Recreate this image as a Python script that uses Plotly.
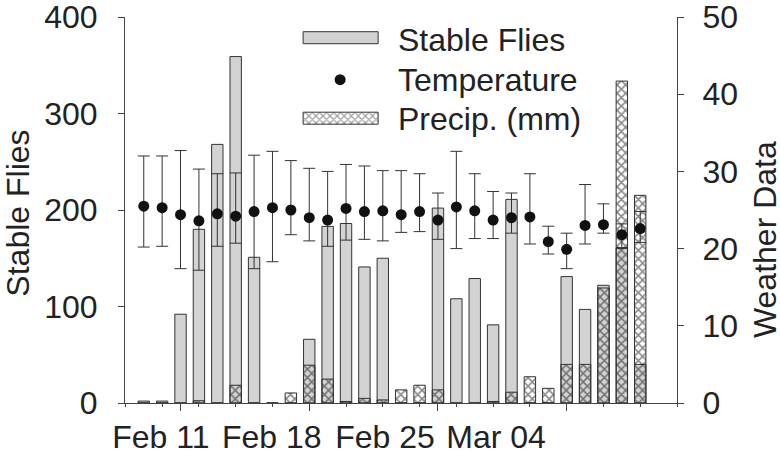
import plotly.graph_objects as go

# day index 0..27 (one bar per day)
days = list(range(28))

stable_flies = [2, 2, 92, 180, 268, 359, 151, 0, 0, 66, 183, 186, 141, 150,
                0, 0, 202, 108, 129, 81, 211, 0, 0, 131, 97, 122, 161, 40]

precip_mm = [0, 0, 0, 0.3, 0, 2.3, 0, 0, 1.3, 4.9, 3.1, 0.2, 0.6, 0.4,
             1.7, 2.3, 1.7, 0, 0, 0.2, 1.4, 3.4, 1.9, 5.0, 5.0, 14.9, 41.7, 26.9]

temperature = [25.5, 25.3, 24.4, 23.6, 24.5, 24.2, 24.8, 25.3, 25.0, 24.0,
               23.7, 25.2, 24.8, 24.9, 24.4, 24.8, 23.7, 25.4, 24.9, 23.7,
               24.0, 24.1, 20.9, 19.9, 23.0, 23.1, 21.8, 22.6]
temp_max = [32.0, 32.0, 32.7, 30.3, 29.7, 29.8, 32.1, 32.6, 31.4, 30.4,
            30.0, 30.9, 30.7, 30.1, 30.1, 29.7, 27.2, 32.6, 29.7, 27.4,
            27.2, 29.7, 22.9, 22.0, 28.3, 25.8, 23.2, 24.8]
temp_min = [20.2, 20.3, 17.4, 17.2, 20.3, 20.7, 17.4, 18.3, 21.8, 21.0,
            20.3, 21.1, 21.2, 21.0, 22.1, 22.2, 21.2, 20.0, 21.3, 21.3,
            22.0, 20.6, 19.3, 17.4, 20.6, 22.0, 20.0, 20.8]

date_labels = ["Feb 11", "Feb 18", "Feb 25", "Mar 04"]
date_label_pos = [0.93, 6.96, 13.12, 19.16]
major_ticks = [2, 9, 16, 23]

legend_labels = ["Stable Flies", "Temperature", "Precip. (mm)"]

FONT = "Liberation Sans, Arial, sans-serif"
INK = "#222222"
AX = "#444444"
GRAY = "#d3d3d3"
XR = [-1.02, 29.0]
FS = 32

W, H = 780, 460
# plot box in pixels, used to place overlay items
L, R, T, B = 125, 676.7, 17.3, 403.3


def px(x):
    return (x - L) / (R - L)


def py(y):
    return (B - y) / (B - T)


err_up = [hi - t for hi, t in zip(temp_max, temperature)]
err_dn = [t - lo for lo, t in zip(temp_min, temperature)]

fig = go.Figure()

fig.add_trace(go.Bar(x=days, y=stable_flies, width=0.62, xaxis="x", yaxis="y",
                     marker=dict(color=GRAY, line=dict(color="#333333", width=1)),
                     showlegend=False))

fig.add_trace(go.Bar(x=days, y=precip_mm, width=0.62, xaxis="x2", yaxis="y2",
                     marker=dict(color="rgba(0,0,0,0)",
                                 line=dict(color="#333333", width=1),
                                 pattern=dict(shape="x", size=6, solidity=0.45,
                                              fgcolor="#111111",
                                              bgcolor="rgba(0,0,0,0)")),
                     showlegend=False))

fig.add_trace(go.Scatter(x=days, y=temperature, mode="markers", xaxis="x2", yaxis="y2",
                         marker=dict(color="#111111", size=11),
                         error_y=dict(type="data", symmetric=False, array=err_up,
                                      arrayminus=err_dn, color="#333333",
                                      thickness=1, width=6),
                         showlegend=False))

# legend keys, drawn on a hidden pixel-scaled overlay
fig.add_trace(go.Bar(y=[38, 118.5], x=[75, 75], base=[303, 303], width=12,
                     orientation="h", xaxis="x3", yaxis="y3", showlegend=False,
                     marker=dict(color=[GRAY, "white"], line=dict(color="#333333", width=1),
                                 pattern=dict(shape=["", "x"], size=5, solidity=0.45,
                                              fgcolor="#111111"))))
fig.add_trace(go.Scatter(x=[340], y=[80], mode="markers", xaxis="x3", yaxis="y3",
                         marker=dict(color="#111111", size=11), showlegend=False))

for lab, yy in zip(legend_labels, [40, 80, 119]):
    fig.add_annotation(x=px(396), y=py(yy), xref="paper", yref="paper", text=lab,
                       showarrow=False, xanchor="left", yanchor="middle",
                       font=dict(size=FS, color=INK))

fig.add_annotation(x=px(18), y=py(213), xref="paper", yref="paper", text="Stable Flies",
                   textangle=-90, showarrow=False, xanchor="center", yanchor="middle",
                   font=dict(size=FS, color=INK))
fig.add_annotation(x=px(764), y=py(240), xref="paper", yref="paper", text="Weather Data",
                   textangle=-90, showarrow=False, xanchor="center", yanchor="middle",
                   font=dict(size=FS, color=INK))

fig.update_layout(
    width=W, height=H,
    margin=dict(l=L, r=W - R, t=T, b=H - B, autoexpand=False),
    paper_bgcolor="white", plot_bgcolor="white",
    font=dict(family=FONT, size=FS, color=INK),
    barmode="overlay",
    showlegend=False,
    xaxis=dict(range=XR, tickmode="array", tickvals=major_ticks, showticklabels=False,
               ticks="outside", ticklen=7, tickcolor=AX, showline=True, linecolor=AX,
               linewidth=1, showgrid=False, zeroline=False, automargin=False,
               minor=dict(tick0=1, dtick=2, ticks="outside", ticklen=3, tickcolor=AX)),
    xaxis2=dict(range=XR, overlaying="x", anchor="y2", side="bottom", tickmode="array",
                tickvals=date_label_pos, ticktext=date_labels, ticks="", showline=False,
                showgrid=False, zeroline=False, ticklabelstandoff=12, automargin=False,
                ticklabeloverflow="allow"),
    xaxis3=dict(range=[L, R], overlaying="x", anchor="y3", visible=False),
    yaxis=dict(range=[0, 400], dtick=100, ticks="outside", ticklen=6, tickcolor=AX,
               showline=True, linecolor=AX, linewidth=1, showgrid=False, zeroline=False,
               ticklabelstandoff=14, automargin=False, ticklabeloverflow="allow"),
    yaxis2=dict(range=[0, 50], dtick=10, overlaying="y", side="right", ticks="outside",
                ticklen=6, tickcolor=AX, showline=True, linecolor=AX, linewidth=1,
                showgrid=False, zeroline=False, ticklabelstandoff=12, automargin=False,
                ticklabeloverflow="allow"),
    yaxis3=dict(range=[B, T], overlaying="y", anchor="x3", visible=False),
)

# drop the page's default body margin so the 780x460 figure fills the window
fig.write_html("out.html", config={"displayModeBar": False},
               post_script="document.body.style.margin='0';document.body.style.overflow='hidden';")
